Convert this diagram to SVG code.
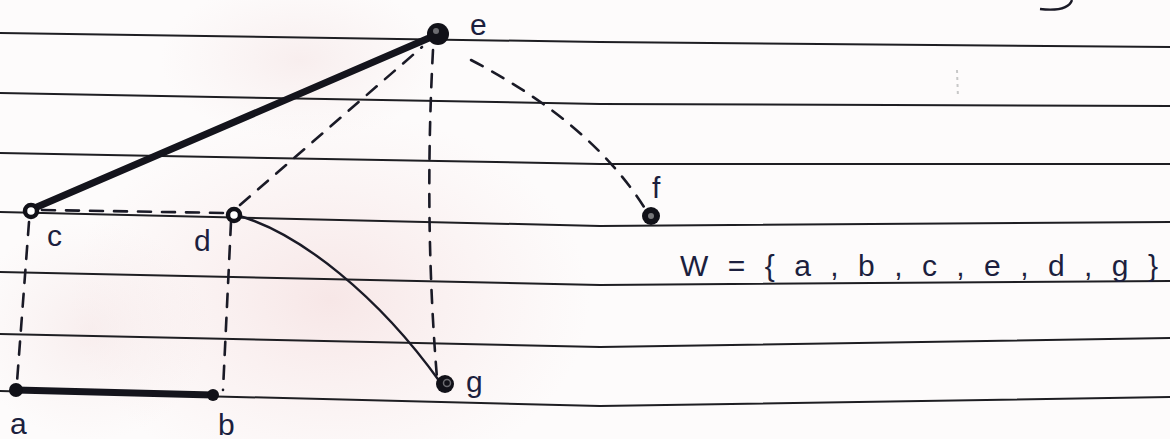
<svg xmlns="http://www.w3.org/2000/svg" width="1170" height="439" viewBox="0 0 1170 439">
  <defs>
    <radialGradient id="stain" cx="0.5" cy="0.5" r="0.5">
      <stop offset="0" stop-color="#f3d9d9" stop-opacity="0.6"/>
      <stop offset="1" stop-color="#f6e2e2" stop-opacity="0"/>
    </radialGradient>
    <radialGradient id="stain2" cx="0.5" cy="0.5" r="0.5">
      <stop offset="0" stop-color="#f2dede" stop-opacity="0.45"/>
      <stop offset="1" stop-color="#f4e4e4" stop-opacity="0"/>
    </radialGradient>
  </defs>
  <style>
    .rule { fill: none; stroke: #1e1e22; stroke-width: 2; }
    .thick { fill: none; stroke: #14141c; stroke-width: 7; stroke-linecap: round; }
    .dash { fill: none; stroke: #1a1a26; stroke-width: 2.6; stroke-dasharray: 13 11; stroke-linecap: round; }
    .thin { fill: none; stroke: #1a1a26; stroke-width: 2.4; stroke-linecap: round; }
    .lbl { font-family: "Liberation Sans", "DejaVu Sans", sans-serif; fill: #1c1f3e; font-size: 30px; }
    .ring { fill: #ffffff; stroke: #111118; stroke-width: 4.5; }
    .dot { fill: #111118; }
  </style>

  <!-- paper -->
  <rect x="0" y="0" width="1170" height="439" fill="#fdfbfb"/>
  <ellipse cx="330" cy="300" rx="260" ry="190" fill="url(#stain)"/>
  <ellipse cx="90" cy="330" rx="120" ry="110" fill="url(#stain2)"/>
  <ellipse cx="300" cy="60" rx="140" ry="80" fill="url(#stain2)"/>

  <g id="ruled-lines">
    <path class="rule" d="M0,33 L600,42 L1170,47"/>
    <path class="rule" d="M0,93 L600,104 L1170,106"/>
    <path class="rule" d="M0,153 L600,164 L1170,164"/>
    <path class="rule" d="M0,212 L600,226 L1170,222"/>
    <path class="rule" d="M0,272 L600,285 L1170,281"/>
    <path class="rule" d="M0,334 L600,347 L1170,338"/>
    <path class="rule" d="M0,391 L600,406 L1170,397"/>
    <path d="M1072,0 Q1068,12 1040,9" fill="none" stroke="#1a1a26" stroke-width="2.4"/>
    <path d="M957,70 L958,98" fill="none" stroke="#c8c8c8" stroke-width="2" stroke-dasharray="3 4"/>
  </g>

  <g id="connectors">
    <path id="edge-c-e" class="thick" d="M30,210 L436,35"/>
    <path id="edge-a-b" class="thick" d="M16,390 L213,395"/>
    <path id="edge-c-d" class="dash" d="M42,210 L226,213"/>
    <path id="edge-d-e" class="dash" d="M240,205 L422,47"/>
    <path id="edge-e-g" class="dash" d="M433,50 Q424,220 437,378"/>
    <path id="edge-e-f" class="dash" d="M471,60 Q590,122 644,207"/>
    <path id="edge-c-a" class="dash" d="M29,222 L17,382"/>
    <path id="edge-d-b" class="dash" d="M231,222 L223,390"/>
    <path id="edge-d-g" class="thin" d="M236,215 C300,232 380,298 440,382"/>
  </g>

  <g id="node-e">
    <circle class="dot" cx="438" cy="34" r="11"/>
    <circle cx="436" cy="31" r="3" fill="#6b6b70"/>
    <text class="lbl" x="470" y="35">e</text>
  </g>
  <g id="node-c">
    <circle class="ring" cx="31" cy="211" r="6"/>
    <text class="lbl" x="47" y="246">c</text>
  </g>
  <g id="node-d">
    <circle class="ring" cx="234" cy="215" r="6"/>
    <text class="lbl" x="194" y="251">d</text>
  </g>
  <g id="node-f">
    <circle class="dot" cx="651" cy="216" r="9"/>
    <circle cx="651" cy="216" r="3" fill="#77777a"/>
    <text class="lbl" x="652" y="198">f</text>
  </g>
  <g id="node-a">
    <circle class="dot" cx="16" cy="390" r="7"/>
    <text class="lbl" x="10" y="434">a</text>
  </g>
  <g id="node-b">
    <circle class="dot" cx="213" cy="395" r="6"/>
    <text class="lbl" x="218" y="435">b</text>
  </g>
  <g id="node-g">
    <circle class="dot" cx="445" cy="384" r="9"/>
    <circle cx="447" cy="383" r="3.5" fill="none" stroke="#6b6b70" stroke-width="1.5"/>
    <text class="lbl" x="466" y="392">g</text>
  </g>

  <g id="set-label">
    <text class="lbl" x="680" y="276" font-size="38" textLength="478" lengthAdjust="spacing">W={a,b,c,e,d,g}</text>
  </g>
</svg>
